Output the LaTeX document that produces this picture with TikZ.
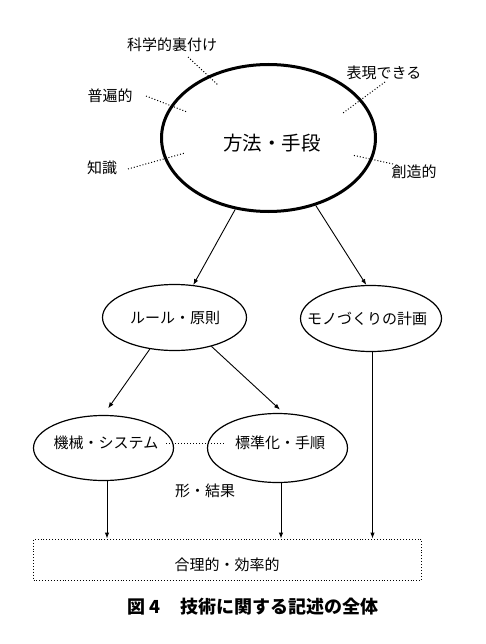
\documentclass[tikz,border=0pt]{standalone}
\usepackage{fontspec}
\setmainfont{Noto Sans CJK JP}
\usetikzlibrary{shapes.geometric,arrows.meta}
\begin{document}
\begin{tikzpicture}[x=1pt,y=-1pt,
  lbl/.style={font=\fontsize{15}{17}\selectfont, inner sep=0pt},
  oval/.style={draw, ellipse, line width=1.2pt, inner sep=0pt},
  dotln/.style={dotted, line width=1pt},
  arr/.style={-{Latex[length=6pt,width=4.5pt]}, line width=0.9pt},
]
\useasboundingbox[fill=white] (0,0) rectangle (486,644);

% main ellipse
\node[draw, ellipse, line width=3pt, minimum width=214pt, minimum height=147pt] (m) at (268.5,138) {};
\node[font=\fontsize{19.5}{21}\selectfont, inner sep=0pt] (mt) at (272,143) {方法・手段};

% surrounding labels
\node[lbl] (l1) at (172,45) {科学的裏付け};
\node[lbl] (l2) at (384,73) {表現できる};
\node[lbl] (l3) at (110,96) {普遍的};
\node[lbl] (l4) at (102,168) {知識};
\node[lbl] (l5) at (414,172) {創造的};

\coordinate (a1) at (188,57);  \coordinate (b1) at (218,85);
\coordinate (a2) at (385,82);  \coordinate (b2) at (343,113);
\coordinate (a3) at (146,96);  \coordinate (b3) at (187,112);
\coordinate (a4) at (128,169); \coordinate (b4) at (185,153);
\coordinate (a5) at (393,164); \coordinate (b5) at (352,155);
\foreach \i in {1,...,5} { \draw[dotln] (a\i) -- (b\i); }

% second level
\node[oval, minimum width=144pt, minimum height=66pt] (rule) at (174.5,317.5) {};
\node[lbl] (rulet) at (175,318) {ルール・原則};
\node[oval, minimum width=141pt, minimum height=66pt] (mono) at (371,318.5) {};
\node[lbl] (monot) at (367,319) {モノづくりの計画};

% third level
\node[oval, minimum width=140pt, minimum height=65pt] (mach) at (103.5,448) {};
\node[lbl] (macht) at (106,443) {機械・システム};
\node[oval, minimum width=140pt, minimum height=69pt] (std) at (277.5,448) {};
\node[lbl] (stdt) at (280,443) {標準化・手順};

\node[lbl] (form) at (205,491) {形・結果};

% bottom box
\node[draw, dotted, line width=0.9pt, minimum width=388pt, minimum height=41pt, inner sep=0pt] (box) at (227.5,559.5) {};
\node[lbl] (boxt) at (227,565) {合理的・効率的};

% caption
\node[anchor=west, inner sep=0pt, font=\fontsize{18}{20}\selectfont\bfseries] (cap) at (127,607) {\makebox[53pt][l]{図 4}技術に関する記述の全体};

% connectors
\draw[arr] (m.245) -- (rule.60);
\draw[arr] (m.305) -- (mono.98);
\draw[arr, shorten >=8pt] (rule.232) -- (mach.north);
\draw[arr, shorten >=5pt] (rule.322) -- (std.80);
\draw[dotln] ([xshift=8pt]macht.east) -- ([xshift=-9pt]stdt.west);
\draw[arr] ([xshift=3.5pt]mach.south) -- ([xshift=3.5pt]mach.south |- box.north);
\draw[arr] ([xshift=3.5pt]std.south) -- ([xshift=3.5pt]std.south |- box.north);
\draw[arr] ([xshift=1.5pt]mono.south) -- ([xshift=1.5pt]mono.south |- box.north);
\end{tikzpicture}
\end{document}
